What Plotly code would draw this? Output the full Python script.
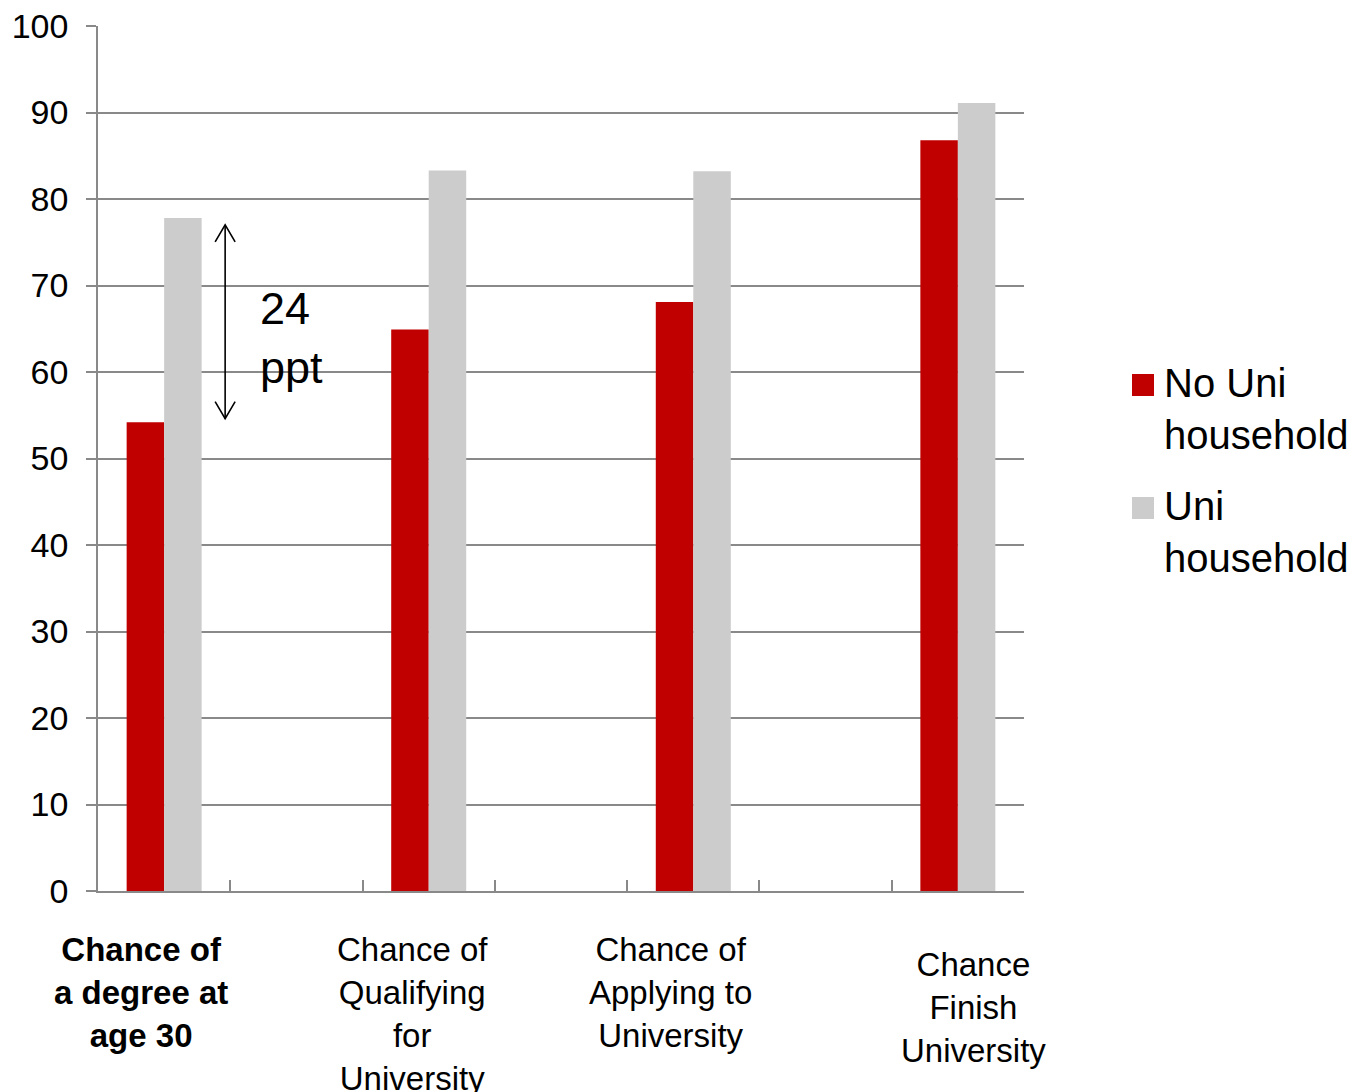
import plotly.graph_objects as go

# Share of young people (%) by parental background
stages = [
    "Chance of<br>a degree at<br>age 30",
    "Chance of<br>Qualifying<br>for<br>University",
    "Chance of<br>Applying to<br>University",
    "Chance<br>Finish<br>University",
]
series_names = ["No Uni<br>household", "Uni<br>household"]
no_uni = [54.2, 64.9, 68.1, 86.8]
uni = [77.8, 83.3, 83.2, 91.1]
y_ticks = [0, 10, 20, 30, 40, 50, 60, 70, 80, 90, 100]

RED = "#C00000"
GREY = "#CCCCCC"
AXIS = "#898989"
FONT = "Liberation Sans, Arial, sans-serif"

W, H = 1365, 1092
M_L, M_R, M_T, M_B = 98, 341, 26, 201
plot_w = W - M_L - M_R
plot_h = H - M_T - M_B

# each stage sits in every other slot, leaving an empty slot between groups
n_slots = 2 * len(stages) - 1
xpos = [2 * i for i in range(len(stages))]
x_range = [-0.5, n_slots - 0.5]
px_per_x = plot_w / (x_range[1] - x_range[0])
px_per_y = plot_h / 100.0

fig = go.Figure()
fig.add_trace(go.Bar(x=xpos, y=no_uni, name=series_names[0],
                     marker=dict(color=RED, line=dict(width=0)), showlegend=False))
fig.add_trace(go.Bar(x=xpos, y=uni, name=series_names[1],
                     marker=dict(color=GREY, line=dict(width=0)), showlegend=False))

# double-headed arrow marking the gap in the first group
gap = uni[0] - no_uni[0]
xa = xpos[0] + 61 / px_per_x
lo, hi = no_uni[0] + 0.4, uni[0] - 0.8
hx = 10 / px_per_x
hy = 17 / px_per_y
arrow_style = dict(color="black", width=1.6)
fig.add_shape(type="line", x0=xa, x1=xa, y0=lo, y1=hi, line=arrow_style, layer="above")
fig.add_shape(type="path", path=f"M{xa - hx},{hi - hy} L{xa},{hi} L{xa + hx},{hi - hy}",
              line=arrow_style, layer="above")
fig.add_shape(type="path", path=f"M{xa - hx},{lo + hy} L{xa},{lo} L{xa + hx},{lo + hy}",
              line=arrow_style, layer="above")
fig.add_annotation(x=xpos[0] + 94 / px_per_x, y=63.9, xref="x", yref="y",
                   text=f"{round(gap)}<br>ppt", showarrow=False, align="left",
                   xanchor="left", yanchor="middle",
                   font=dict(family=FONT, size=45, color="black"))

# stage labels under the axis
label_shift = [-23, -16, -23, 16]
label_top = [929, 929, 929, 944]
for i, txt in enumerate(stages):
    if i == 0:
        txt = f"<b>{txt}</b>"
    fig.add_annotation(x=xpos[i], xref="x", y=(M_T + plot_h - label_top[i]) / plot_h,
                       yref="paper", text=txt, showarrow=False, xshift=label_shift[i],
                       xanchor="center", yanchor="top", align="center",
                       font=dict(family=FONT, size=33, color="black"))

# legend drawn as swatches + text
def px_x(p):
    return (p - M_L) / plot_w

def px_y(p):
    return (M_T + plot_h - p) / plot_h

legend_tops = [374, 497]
for name, col, top in zip(series_names, [RED, GREY], legend_tops):
    fig.add_shape(type="rect", xref="paper", yref="paper",
                  x0=px_x(1132), x1=px_x(1154), y0=px_y(top + 22), y1=px_y(top),
                  fillcolor=col, line=dict(width=0))
    fig.add_annotation(xref="paper", yref="paper", x=px_x(1162), y=px_y(top - 15),
                       text=name, showarrow=False, xanchor="left", yanchor="top",
                       align="left", font=dict(family=FONT, size=40, color="black"))

fig.update_layout(
    width=W, height=H,
    margin=dict(l=M_L, r=M_R, t=M_T, b=M_B, pad=0, autoexpand=False),
    paper_bgcolor="white", plot_bgcolor="white",
    barmode="group", bargap=1 - 2 * 37.5 / px_per_x / 2, bargroupgap=0,
    showlegend=False,
    font=dict(family=FONT, size=34, color="black"),
)
fig.update_xaxes(
    range=x_range, tickmode="array", automargin=False,
    tickvals=[k - 0.5 for k in range(n_slots + 1)],
    showticklabels=False, ticks="inside", ticklen=11, tickwidth=1.5, tickcolor=AXIS,
    showgrid=False, zeroline=False, showline=True, linecolor=AXIS, linewidth=1.5,
)
fig.update_yaxes(
    range=[0, 100], tickmode="array", tickvals=y_ticks, automargin=False,
    ticks="outside", ticklen=10, tickwidth=1.5, tickcolor=AXIS,
    ticklabelstandoff=11,
    tickfont=dict(family=FONT, size=34, color="black"),
    showgrid=True, gridcolor=AXIS, gridwidth=1.5,
    zeroline=False, showline=True, linecolor=AXIS, linewidth=1.5,
)

fig.write_html("out.html")
